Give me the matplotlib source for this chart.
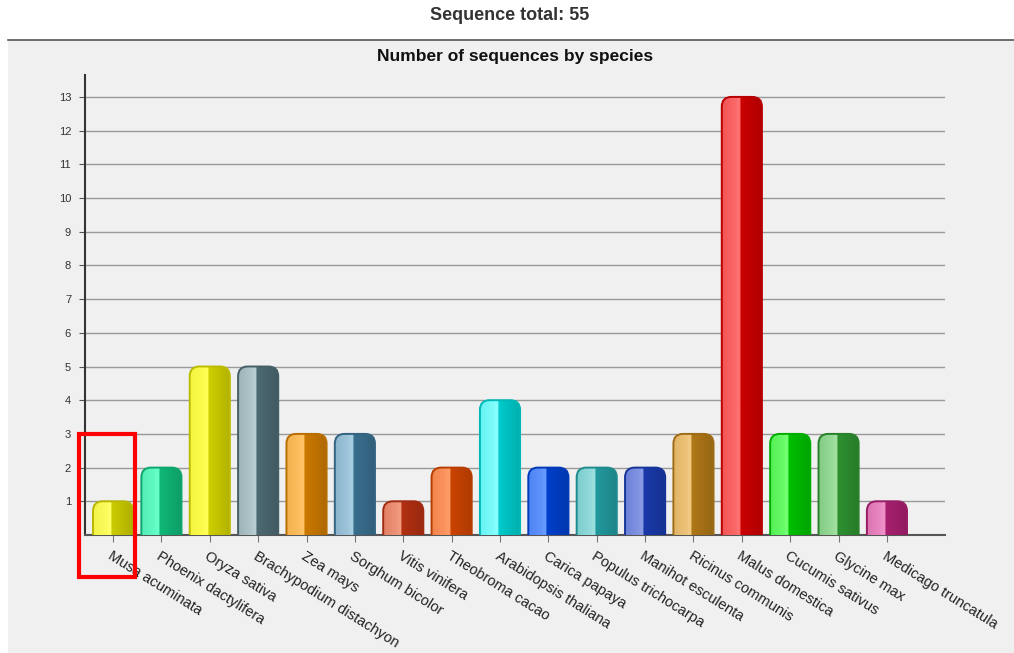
import matplotlib.pyplot as plt
import matplotlib.colors as mcolors
from matplotlib.patches import Rectangle, FancyBboxPatch
import numpy as np

species = ['Musa acuminata', 'Phoenix dactylifera', 'Oryza sativa', 'Brachypodium distachyon',
           'Zea mays', 'Sorghum bicolor', 'Vitis vinifera', 'Theobroma cacao',
           'Arabidopsis thaliana', 'Carica papaya', 'Populus trichocarpa', 'Manihot esculenta',
           'Ricinus communis', 'Malus domestica', 'Cucumis sativus', 'Glycine max',
           'Medicago truncatula']
counts = [1, 2, 5, 5, 3, 3, 1, 2, 4, 2, 2, 2, 3, 13, 3, 3, 1]
base_cols = ['#cccc00', '#10b878', '#d0d000', '#4d6a72', '#cc7a00', '#3a6f8f', '#b33012',
             '#cc4400', '#00cccc', '#0040cc', '#229a9e', '#1a3aaa', '#b07818', '#cc0000',
             '#00c000', '#2e9030', '#a82070']
light_cols = ['#ffff66', '#66ffc8', '#ffff55', '#b8ccd0', '#ffc366', '#a6cce0', '#f29a80',
              '#ff9a66', '#88ffff', '#6699ff', '#9adede', '#8899e6', '#f0c880', '#ff7070',
              '#70ff70', '#a0e0a0', '#ee90c8']

W, H = 1014, 653
fig = plt.figure(figsize=(W / 100, H / 100), dpi=100)
fig.patch.set_facecolor('white')

# grey panel
fig.patches.append(Rectangle((8 / W, 0), 1 - 8 / W, (H - 40) / H, transform=fig.transFigure,
                             facecolor='#f0f0f0', edgecolor='none', zorder=-5))
fig.add_artist(plt.Line2D([8 / W, 1], [(H - 40) / H] * 2, color='#555555', lw=1.2,
                          transform=fig.transFigure, zorder=-4))
fig.text(0.503, 1 - 15 / H, 'Sequence total: %d' % sum(counts), ha='center', va='center',
         fontsize=13, fontweight='bold', color='#333333', family='Liberation Sans')

ax = fig.add_axes([85 / W, 1 - 535 / H, (945 - 85) / W, (535 - 75) / H])
ax.set_zorder(2)
ax.set_facecolor('none')
x = np.arange(len(species))
bars = ax.bar(x, counts, width=0.83, color='none', edgecolor='none', zorder=3)

ax.yaxis.grid(True, color='#999999', lw=1, zorder=1)
ax.set_axisbelow(True)
for s in ['top', 'right']:
    ax.spines[s].set_visible(False)
ax.spines['left'].set_color('#333333')
ax.spines['left'].set_linewidth(1.5)
ax.spines['bottom'].set_color('#555555')
ax.spines['bottom'].set_linewidth(1.5)
ax.tick_params(axis='y', length=4, color='#555555', labelsize=8, labelcolor='#333333', pad=6)
ax.tick_params(axis='x', length=5, color='#777777', labelsize=10.5, labelcolor='#222222', pad=5)
ax.set_xticks(x)
ax.set_xticklabels(species, rotation=-32, ha='left', va='top', rotation_mode='anchor',
                   family='Liberation Sans')
ax.set_title('Number of sequences by species', fontsize=12.5, fontweight='bold',
             color='#111111', family='Liberation Sans', pad=10)

# cylinder-like shading for each bar
t = np.linspace(0, 1, 200)
for b, c0, c1 in zip(bars, base_cols, light_cols):
    base = np.array(mcolors.to_rgb(c0))
    light = np.array(mcolors.to_rgb(c1))
    dark = base * 0.85
    prof = np.zeros((1, len(t), 3))
    for i, v in enumerate(t):
        if v < 0.45:
            k = v / 0.45
            col = light * (0.75 + 0.25 * k) + base * (0.25 - 0.25 * k) if k < 0.8 else light
        else:
            k = (v - 0.45) / 0.55
            col = base * (1 - k) + dark * k
        prof[0, i] = np.clip(col, 0, 1)
    bx, bw, bh = b.get_x(), b.get_width(), b.get_height()
    patch = FancyBboxPatch((bx, -0.5), bw, bh + 0.5,
                           boxstyle='round,pad=0,rounding_size=0.2',
                           mutation_aspect=1.45, facecolor='none',
                           edgecolor=base * 0.9, lw=1.4, zorder=4)
    ax.add_patch(patch)
    im = ax.imshow(prof, extent=(bx, bx + bw, -0.5, bh), aspect='auto', zorder=3,
                   interpolation='bilinear')
    im.set_clip_path(patch)
ax.set_xlim(-0.58, 17.2)
ax.set_ylim(0, 13.65)
ax.set_yticks(range(1, 14))
for lab in ax.get_yticklabels():
    lab.set_family('Liberation Sans')

# red highlight box
fig.add_artist(Rectangle((79 / W, 1 - 577 / H), 56 / W, 143 / H, transform=fig.transFigure,
                         facecolor='none', edgecolor='#ff0000', lw=3, zorder=10))

fig.savefig('out.png', dpi=100)
